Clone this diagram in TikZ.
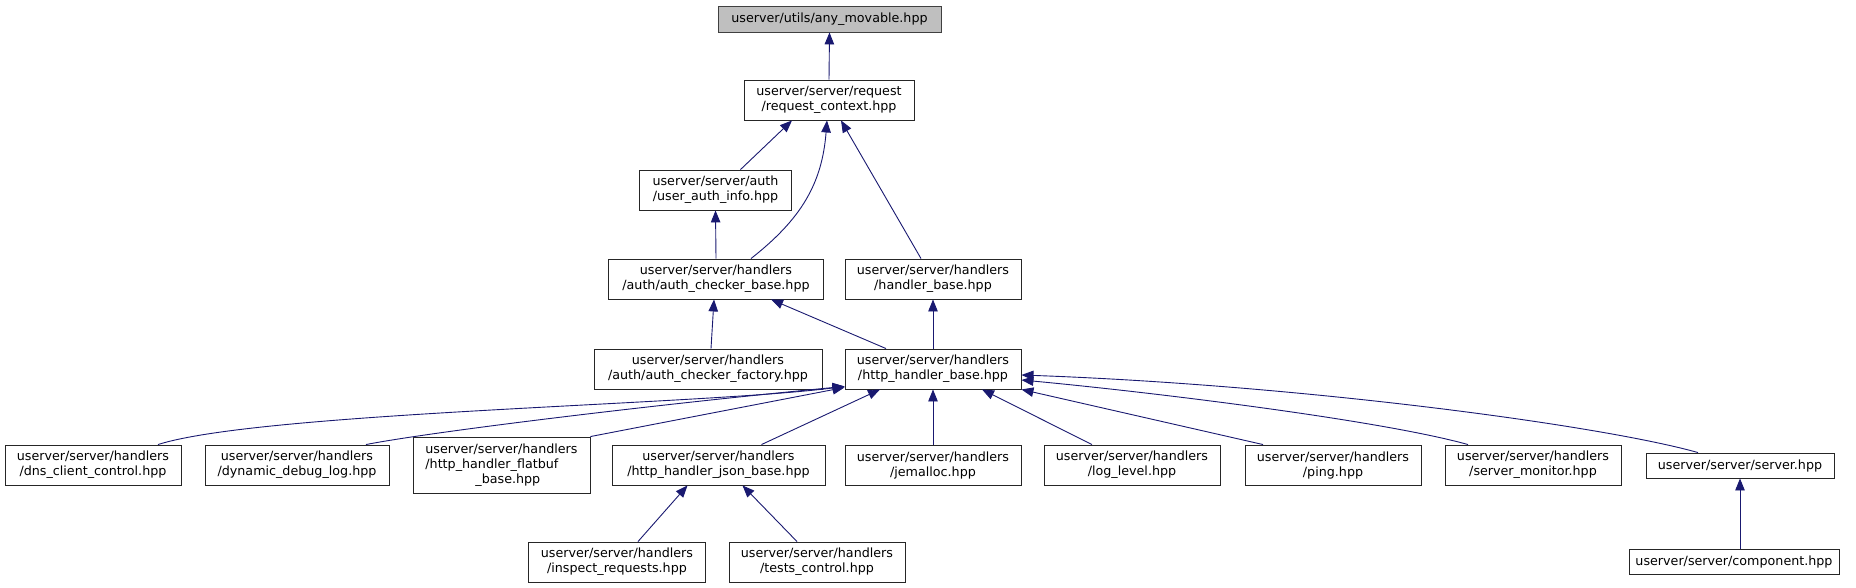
\documentclass[tikz,border=0pt]{standalone}
\usepackage{fontspec}
\setmainfont{DejaVu Sans}
\usetikzlibrary{arrows.meta}
\definecolor{edgeblue}{HTML}{191970}
\definecolor{rootgray}{HTML}{BFBFBF}
\definecolor{boxline}{HTML}{404040}
\tikzset{
    every node/.style={font=\fontsize{12.7}{15}\selectfont},
    file/.style={rectangle,draw=black!85,fill=white,line width=0.9pt,align=center,inner sep=0pt,minimum height=40pt},
    rootfile/.style={file,draw=boxline,fill=rootgray,minimum height=26pt},
    onefile/.style={file,minimum height=25pt},
    inc/.style={draw=edgeblue,line width=0.9pt,-{Triangle[length=12pt,width=9.5pt]}}
}
\begin{document}
\begin{tikzpicture}[x=1pt,y=-1pt]
    \useasboundingbox (0,0) rectangle (1856,588);
    \node[rootfile,minimum width=223pt] (any) at (829.5,19) {userver/utils/any\_movable.hpp};
    \node[file,minimum width=170pt] (reqctx) at (829,100) {userver/server/request\\/request\_context.hpp};
    \node[file,minimum width=152pt] (authinfo) at (715.5,190) {userver/server/auth\\/user\_auth\_info.hpp};
    \node[file,minimum width=215pt] (checkerbase) at (716,279) {userver/server/handlers\\/auth/auth\_checker\_base.hpp};
    \node[file,minimum width=176pt] (handlerbase) at (933,279) {userver/server/handlers\\/handler\_base.hpp};
    \node[file,minimum width=228pt] (checkerfactory) at (708,369) {userver/server/handlers\\/auth/auth\_checker\_factory.hpp};
    \node[file,minimum width=176pt] (httpbase) at (933,369) {userver/server/handlers\\/http\_handler\_base.hpp};
    \node[file,minimum width=176pt] (dns) at (93,465) {userver/server/handlers\\/dns\_client\_control.hpp};
    \node[file,minimum width=184pt] (dynlog) at (297,465) {userver/server/handlers\\/dynamic\_debug\_log.hpp};
    \node[file,minimum width=177pt,minimum height=56pt,align=left] (flatbuf) at (501.5,465) {userver/server/handlers\\/http\_handler\_flatbuf\\\hspace*{50pt}\_base.hpp};
    \node[file,minimum width=213pt] (jsonbase) at (718.5,465) {userver/server/handlers\\/http\_handler\_json\_base.hpp};
    \node[file,minimum width=176pt] (jemalloc) at (933,465) {userver/server/handlers\\/jemalloc.hpp};
    \node[file,minimum width=176pt] (loglevel) at (1132,465) {userver/server/handlers\\/log\_level.hpp};
    \node[file,minimum width=176pt] (ping) at (1333,465) {userver/server/handlers\\/ping.hpp};
    \node[file,minimum width=176pt] (srvmonitor) at (1533,465) {userver/server/handlers\\/server\_monitor.hpp};
    \node[onefile,minimum width=188pt] (server) at (1740,465.5) {userver/server/server.hpp};
    \node[file,minimum width=177pt] (inspect) at (617,562) {userver/server/handlers\\/inspect\_requests.hpp};
    \node[file,minimum width=176pt] (tests) at (817,562) {userver/server/handlers\\/tests\_control.hpp};
    \node[onefile,minimum width=210pt] (component) at (1734,561.5) {userver/server/component.hpp};

    \draw[inc] (reqctx.north) -- (any.south);
    \draw[inc] ([xshift=25pt]authinfo.north) -- ([xshift=-37pt]reqctx.south);
    \draw[inc] ([xshift=35pt]checkerbase.north) .. controls (800,220) and (822,185) .. ([xshift=-2pt]reqctx.south);
    \draw[inc] ([xshift=-12pt]handlerbase.north) -- ([xshift=12pt]reqctx.south);
    \draw[inc] (checkerbase.north) -- (authinfo.south);
    \draw[inc] ([xshift=3pt]checkerfactory.north) -- ([xshift=-2pt]checkerbase.south);
    \draw[inc] ([xshift=-47pt]httpbase.north) -- ([xshift=55pt]checkerbase.south);
    \draw[inc] (httpbase.north) -- (handlerbase.south);
    \draw[inc] ([xshift=65pt]dns.north) .. controls (260,412) and (700,405) .. ([yshift=3pt]httpbase.south west);
    \draw[inc] ([xshift=69pt]dynlog.north) .. controls (430,432) and (650,405) .. ([yshift=3pt]httpbase.south west);
    \draw[inc] (flatbuf.north east) -- ([yshift=2pt]httpbase.south west);
    \draw[inc] ([xshift=43pt]jsonbase.north) -- ([xshift=-53pt]httpbase.south);
    \draw[inc] (jemalloc.north) -- (httpbase.south);
    \draw[inc] ([xshift=-40pt]loglevel.north) -- ([xshift=49pt]httpbase.south);
    \draw[inc] ([xshift=-70pt]ping.north) -- (httpbase.south east);
    \draw[inc] ([xshift=-65pt]srvmonitor.north) .. controls (1380,420) and (1150,392) .. ([yshift=-11pt]httpbase.east);
    \draw[inc] ([xshift=-42pt]server.north) .. controls (1600,425) and (1300,385) .. ([yshift=-6pt]httpbase.east);
    \draw[inc] ([xshift=21pt]inspect.north) -- ([xshift=-31pt]jsonbase.south);
    \draw[inc] ([xshift=-20pt]tests.north) -- ([xshift=24pt]jsonbase.south);
    \draw[inc] ([xshift=6pt]component.north) -- (server.south);
\end{tikzpicture}
\end{document}
